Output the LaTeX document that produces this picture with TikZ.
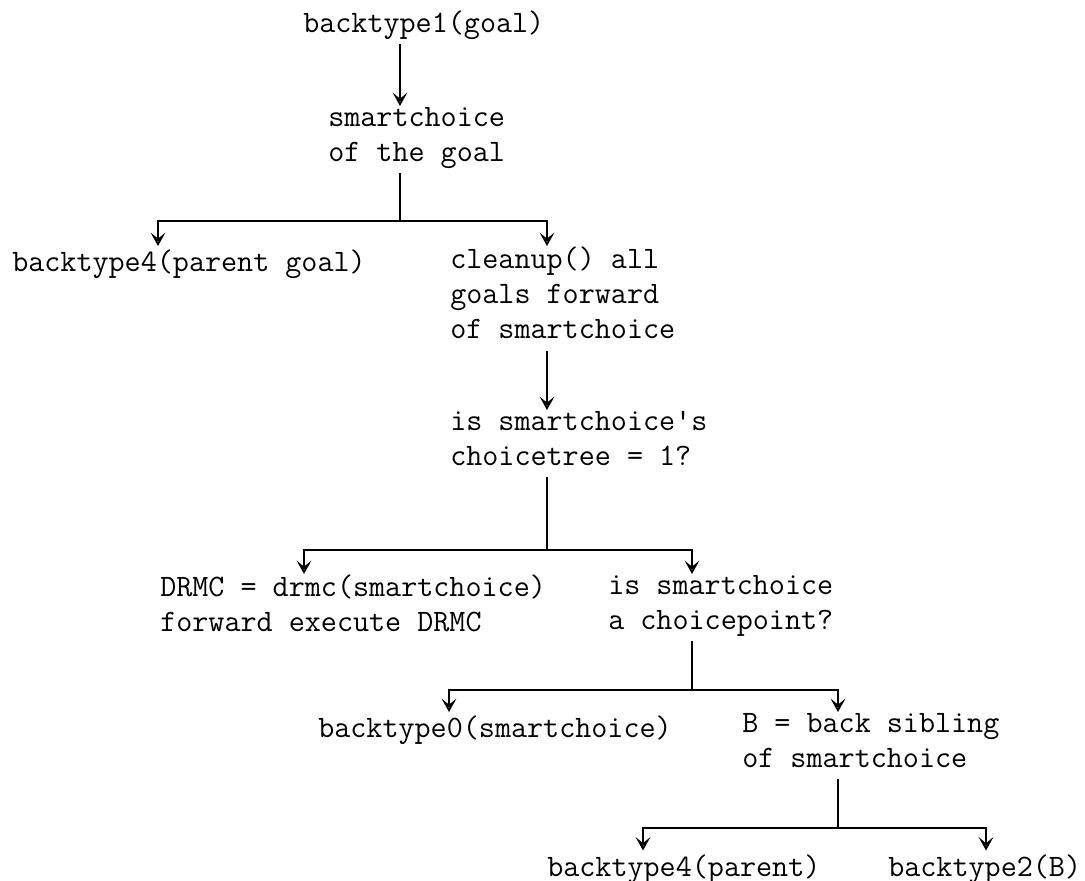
\documentclass[tikz,border=0pt]{standalone}
\usetikzlibrary{arrows.meta}

\tikzset{
  flowtext/.style={anchor=north west,inner sep=0.75pt,align=left,
    font=\fontsize{23.4}{26.25}\selectfont\ttfamily,
    execute at begin node=\strut,execute at end node=\strut},
  flowline/.style={line width=1.4pt},
  flowarrow/.style={flowline,-{Stealth[open,length=10pt,width=11pt,inset=4.5pt,line width=1.4pt]}}
}

\begin{document}
\begin{tikzpicture}[x=0.75pt,y=0.75pt,yscale=-1,xscale=1]
\useasboundingbox (0,0) rectangle (1085,881);

% Text Node
\draw (302,6.5) node (goal) [flowtext] {backtype1(goal)};
% Text Node
\draw (327,106) node (smart) [flowtext] {smartchoice\\of the goal};
% Text Node
\draw (11,246) node (pgoal) [flowtext] {backtype4(parent goal)};
% Text Node
\draw (449,246) node (cleanup) [flowtext] {cleanup() all\\goals forward\\of smartchoice};
% Text Node
\draw (449,410) node (ctree) [flowtext] {is smartchoice's\\choicetree = 1?};
% Text Node
\draw (159,574) node (drmc) [flowtext] {DRMC = drmc(smartchoice)\\forward execute DRMC};
% Text Node
\draw (607,574) node (cpoint) [flowtext] {is smartchoice\\a choicepoint?};
% Text Node
\draw (317,712) node (bt0) [flowtext] {backtype0(smartchoice)};
% Text Node
\draw (741,712) node (sibling) [flowtext] {B = back sibling\\of smartchoice};
% Text Node
\draw (546,850.5) node (bt4) [flowtext] {backtype4(parent)};
% Text Node
\draw (887,850.5) node (bt2) [flowtext] {backtype2(B)};

%Fork points
\coordinate (fork1) at (400,221);
\coordinate (fork2) at (547,550);
\coordinate (fork3) at (692,690);
\coordinate (fork4) at (838,828);
%Drop columns
\coordinate (drop1) at (158,221);
\coordinate (drop2) at (304,550);
\coordinate (drop3) at (449,690);
\coordinate (drop4) at (643,828);
\coordinate (drop5) at (986,828);

%Straight Arrow
\draw [flowarrow] (goal.south -| fork1) -- (smart.north -| fork1);
%Fork 1
\draw [flowline] (smart.south -| fork1) -- (fork1);
\draw [flowarrow] (fork1) -| (pgoal.north -| drop1);
\draw [flowarrow] (fork1) -| (cleanup.north -| fork2);
%Straight Arrow
\draw [flowarrow] (cleanup.south -| fork2) -- (ctree.north -| fork2);
%Fork 2
\draw [flowline] (ctree.south -| fork2) -- (fork2);
\draw [flowarrow] (fork2) -| (drmc.north -| drop2);
\draw [flowarrow] (fork2) -| (cpoint.north -| fork3);
%Fork 3
\draw [flowline] (cpoint.south -| fork3) -- (fork3);
\draw [flowarrow] (fork3) -| (bt0.north -| drop3);
\draw [flowarrow] (fork3) -| (sibling.north -| fork4);
%Fork 4
\draw [flowline] (sibling.south -| fork4) -- (fork4);
\draw [flowarrow] (fork4) -| (bt4.north -| drop4);
\draw [flowarrow] (fork4) -| (bt2.north -| drop5);

\end{tikzpicture}
\end{document}
